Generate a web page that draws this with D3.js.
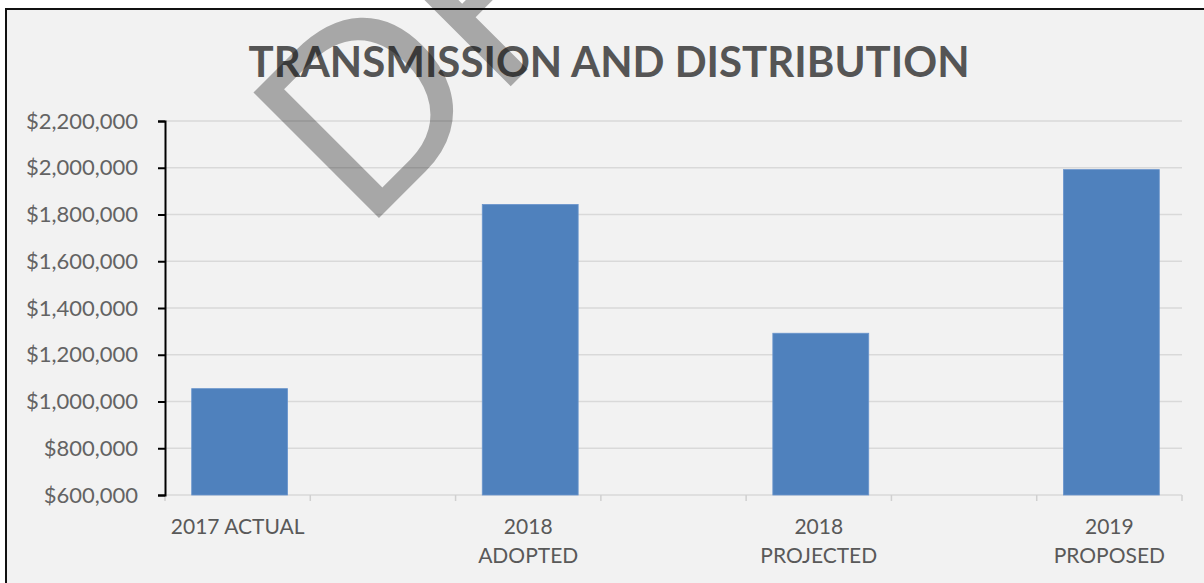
<!DOCTYPE html>
<html><head><meta charset="utf-8">
<script src="https://cdn.jsdelivr.net/npm/d3@7"></script>
<style>html,body{margin:0;padding:0;background:#fff;overflow:hidden}</style>
</head><body>
<svg id="c" width="1204" height="583"></svg>
<script>
const title = "TRANSMISSION AND DISTRIBUTION";
const watermark = "DRAFT";
const categories = [["2017 ACTUAL"], [], ["2018", "ADOPTED"], [], ["2018", "PROJECTED"], [], ["2019", "PROPOSED"]];
const values = [1055000, null, 1843000, null, 1292000, null, 1992000];
const yTicks = [600000, 800000, 1000000, 1200000, 1400000, 1600000, 1800000, 2000000, 2200000];

const svg = d3.select("#c");
const font = "Lato, 'Open Sans', sans-serif";
const L = 165, R = 1182, T = 121, B = 495;

svg.append("rect").attr("x", 6).attr("y", 9).attr("width", 1210).attr("height", 600)
  .attr("fill", "#f2f2f2").attr("stroke", "#111").attr("stroke-width", 2);

const x = d3.scaleBand().domain(d3.range(categories.length)).range([L, R])
  .paddingInner(0.34).paddingOuter(0.17);
const y = d3.scaleLinear().domain([600000, 2200000]).range([B, T]);

// gridlines
svg.append("g").selectAll("line").data(yTicks).join("line")
  .attr("x1", L).attr("x2", R).attr("y1", d => y(d)).attr("y2", d => y(d))
  .attr("stroke", "#d9d9d9").attr("stroke-width", 1.5);

// x axis ticks at band boundaries
const gap = (x.step() - x.bandwidth()) / 2;
const bounds = d3.range(categories.length).map(i => x(i) - gap).concat([R]);
svg.append("g").selectAll("line").data(bounds).join("line")
  .attr("x1", d => d).attr("x2", d => d).attr("y1", B).attr("y2", B + 6)
  .attr("stroke", "#d0d0d0").attr("stroke-width", 1.5);

// bars
svg.append("g").selectAll("rect").data(values.map((v, i) => ({v, i})).filter(d => d.v != null)).join("rect")
  .attr("x", d => x(d.i) + 2).attr("width", x.bandwidth())
  .attr("y", d => y(d.v)).attr("height", d => B - y(d.v))
  .attr("fill", "#4f81bd").attr("stroke", "#6a95cc").attr("stroke-width", 0.8);

// y axis
const yAxis = d3.axisLeft(y).tickValues(yTicks).tickSize(7).tickPadding(20)
  .tickFormat(d => "$" + d3.format(",")(d));
const gy = svg.append("g").attr("transform", `translate(${L},0)`).call(yAxis);
gy.select(".domain").attr("stroke", "#000").attr("stroke-width", 2);
gy.selectAll(".tick line").attr("stroke", "#000").attr("stroke-width", 2);
gy.selectAll(".tick text").attr("fill", "#636363").style("font-family", font).style("font-size", "22px");

// x labels
const xl = svg.append("g").selectAll("text").data(categories.map((c, i) => ({c, i}))).join("text")
  .attr("x", d => x(d.i) + x.bandwidth() / 2).attr("y", 534)
  .attr("text-anchor", "middle").attr("fill", "#595959")
  .style("font-family", font).style("font-size", "21px");
xl.selectAll("tspan").data(d => d.c).join("tspan")
  .attr("x", function() { return d3.select(this.parentNode).attr("x"); })
  .attr("dy", (d, j) => j === 0 ? 0 : 29).text(d => d);

// title
svg.append("text").attr("x", 609).attr("y", 77).attr("text-anchor", "middle")
  .attr("fill", "#555").style("font-family", font).style("font-weight", "bold")
  .style("font-size", "42px").text(title);

// watermark
svg.append("text").attr("transform", "translate(364,233) rotate(-45)")
  .attr("fill", "#000").attr("fill-opacity", 0.31)
  .style("font-family", "'Liberation Sans', Arial, sans-serif").style("font-size", "258px")
  .text(watermark);
</script>
</body></html>
